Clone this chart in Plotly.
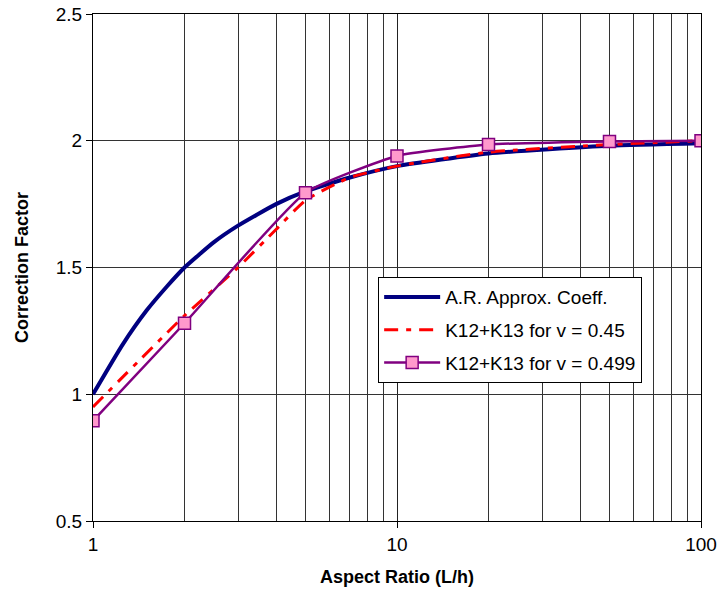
import plotly.graph_objects as go

# Blue: A.R. approximate coefficient
ar_x = [1, 1.25, 1.5, 1.75, 2, 2.5, 3, 4, 5, 7, 10, 20, 50, 100]
ar_y = [1.0, 1.195, 1.33, 1.425, 1.5, 1.6, 1.665, 1.75, 1.8, 1.855, 1.9, 1.95, 1.98, 1.99]

# Red dashed: K12+K13 for v = 0.45
k45_x = [1, 2, 3, 4, 5, 7, 10, 20, 50, 100]
k45_y = [0.95, 1.31, 1.50, 1.65, 1.765, 1.855, 1.90, 1.955, 1.985, 2.0]

# Purple with markers: K12+K13 for v = 0.499
k499_x = [1, 2, 5, 10, 20, 50, 100]
k499_y = [0.895, 1.28, 1.795, 1.94, 1.985, 1.997, 2.0]

x_ticks = [1, 10, 100]
x_minor = [2, 3, 4, 5, 6, 7, 8, 9, 20, 30, 40, 50, 60, 70, 80, 90]

FONT = "Liberation Sans, Arial, sans-serif"

fig = go.Figure()
fig.add_trace(go.Scatter(
    x=ar_x, y=ar_y, mode="lines", name="A.R. Approx. Coeff.",
    line=dict(color="#000080", width=4, shape="spline", smoothing=0.5),
    legendgroup="a"))
fig.add_trace(go.Scatter(
    x=k45_x, y=k45_y, mode="lines", name="K12+K13 for v = 0.45",
    line=dict(color="#FF0000", width=3, dash="14px,8px,5px,8px", shape="spline", smoothing=0.5),
    legendgroup="b"))
fig.add_trace(go.Scatter(
    x=k499_x, y=k499_y, mode="lines+markers", name="K12+K13 for v = 0.499",
    line=dict(color="#800080", width=2.5, shape="spline", smoothing=0.45),
    marker=dict(symbol="square", size=12, color="#FF99CC",
                line=dict(color="#800080", width=1.5)),
    legendgroup="c"))

fig.update_layout(
    width=728, height=594,
    margin=dict(l=93, r=27, t=14, b=73, autoexpand=False),
    paper_bgcolor="white", plot_bgcolor="white",
    font=dict(family=FONT, size=19, color="black"),
    showlegend=True,
    legend=dict(
        x=0.469, y=0.481, xanchor="left", yanchor="top",
        bgcolor="white", bordercolor="black", borderwidth=1,
        font=dict(family=FONT, size=19, color="black"),
        tracegroupgap=5, itemwidth=56,
    ),
)

fig.update_xaxes(
    type="log", range=[0, 2],
    tickvals=x_ticks, ticktext=[str(v) for v in x_ticks],
    showgrid=True, gridcolor="#222222", gridwidth=1,
    minor=dict(tickvals=x_minor, showgrid=True, gridcolor="#333333", gridwidth=1, ticks=""),
    showline=True, linecolor="black", linewidth=1, mirror=True,
    ticks="outside", ticklen=6, tickcolor="black",
    tickfont=dict(family=FONT, size=19),
    zeroline=False, automargin=False,
    title=dict(text="<b>Aspect Ratio (L/h)</b>", font=dict(family=FONT, size=18), standoff=16),
)
fig.update_yaxes(
    range=[0.5, 2.5], dtick=0.5, tick0=0.5,
    showgrid=True, gridcolor="#333333", gridwidth=1,
    showline=True, linecolor="black", linewidth=1, mirror=True,
    ticks="outside", ticklen=6, tickcolor="black",
    tickfont=dict(family=FONT, size=19),
    zeroline=False, automargin=False,
    title=dict(text="<b>Correction Factor</b>", font=dict(family=FONT, size=18), standoff=22),
)

fig.write_html("out.html", config={"displayModeBar": False},
               post_script="document.body.style.margin='0';")
